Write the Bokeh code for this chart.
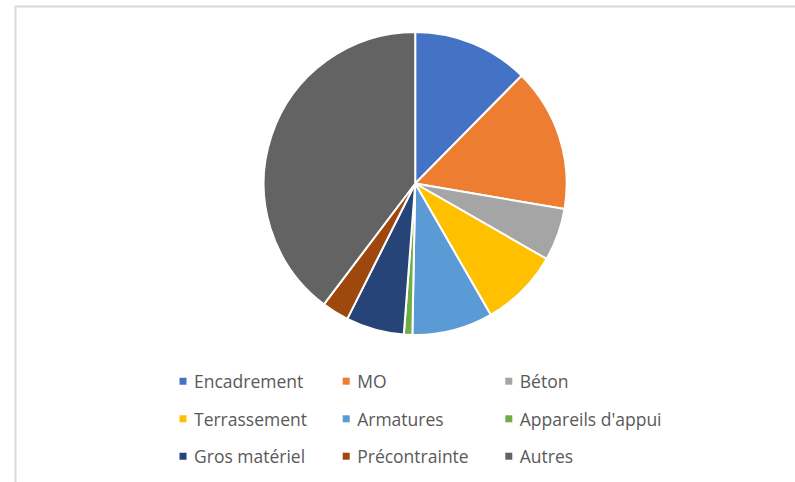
import math
from bokeh.plotting import figure
from bokeh.models import Range1d, ColumnDataSource
from bokeh.core.properties import value
from bokeh.embed import file_html
from bokeh.resources import INLINE

# ---- data ----
categories = ["Encadrement", "MO", "Béton", "Terrassement", "Armatures",
              "Appareils d'appui", "Gros matériel", "Précontrainte", "Autres"]
shares = [12.4, 15.3, 5.6, 8.4, 8.6, 0.9, 6.2, 2.9, 39.7]
colors = ["#4472C4", "#ED7D31", "#A5A5A5", "#FFC000", "#5B9BD5",
          "#70AD47", "#264478", "#9E480E", "#636363"]

W, H = 795, 482
p = figure(width=W, height=H, output_backend="svg", toolbar_location=None,
           x_range=Range1d(0, W), y_range=Range1d(0, H),
           min_border=0)
p.axis.visible = False
p.grid.visible = False
p.outline_line_color = None
p.background_fill_color = "white"
p.border_fill_color = "white"

def Y(page_y):
    return H - page_y

# chart-area border (light gray frame, cropped at right/bottom)
p.line([15, 15, W + 5], [Y(H + 5), Y(6), Y(6)], line_color="#D9D9D9", line_width=2)

# pie
total = sum(shares)
cx, cy, r = 414.7, Y(183), 151.5
starts, ends = [], []
cum = 0.0
for s in shares:
    a0 = cum / total * 2 * math.pi
    cum += s
    a1 = cum / total * 2 * math.pi
    starts.append(math.pi / 2 - a1)
    ends.append(math.pi / 2 - a0)
src = ColumnDataSource(dict(start=starts, end=ends, color=colors, cat=categories))
p.wedge(x=cx, y=cy, radius=r, start_angle="start", end_angle="end",
        fill_color="color", line_color="white", line_width=2, source=src)

# legend (3 columns x 3 rows)
col_x = [182.5, 345.7, 508.3]
row_y = [380.7, 418.3, 455.7]
mx, my, tx, ty = [], [], [], []
for i, c in enumerate(categories):
    cx_ = col_x[i % 3]
    ry = row_y[i // 3]
    mx.append(cx_)
    my.append(Y(ry))
    tx.append(cx_ + 11)
    ty.append(Y(ry))
p.scatter(x=mx, y=my, marker="square", size=7, fill_color=colors, line_color=None)
p.text(x=tx, y=ty, text=categories, text_font=value("Open Sans"),
       text_font_size="17.5px", text_color="#595959", text_baseline="middle",
       text_align="left")

open("out.html", "w").write(file_html(p, INLINE))
